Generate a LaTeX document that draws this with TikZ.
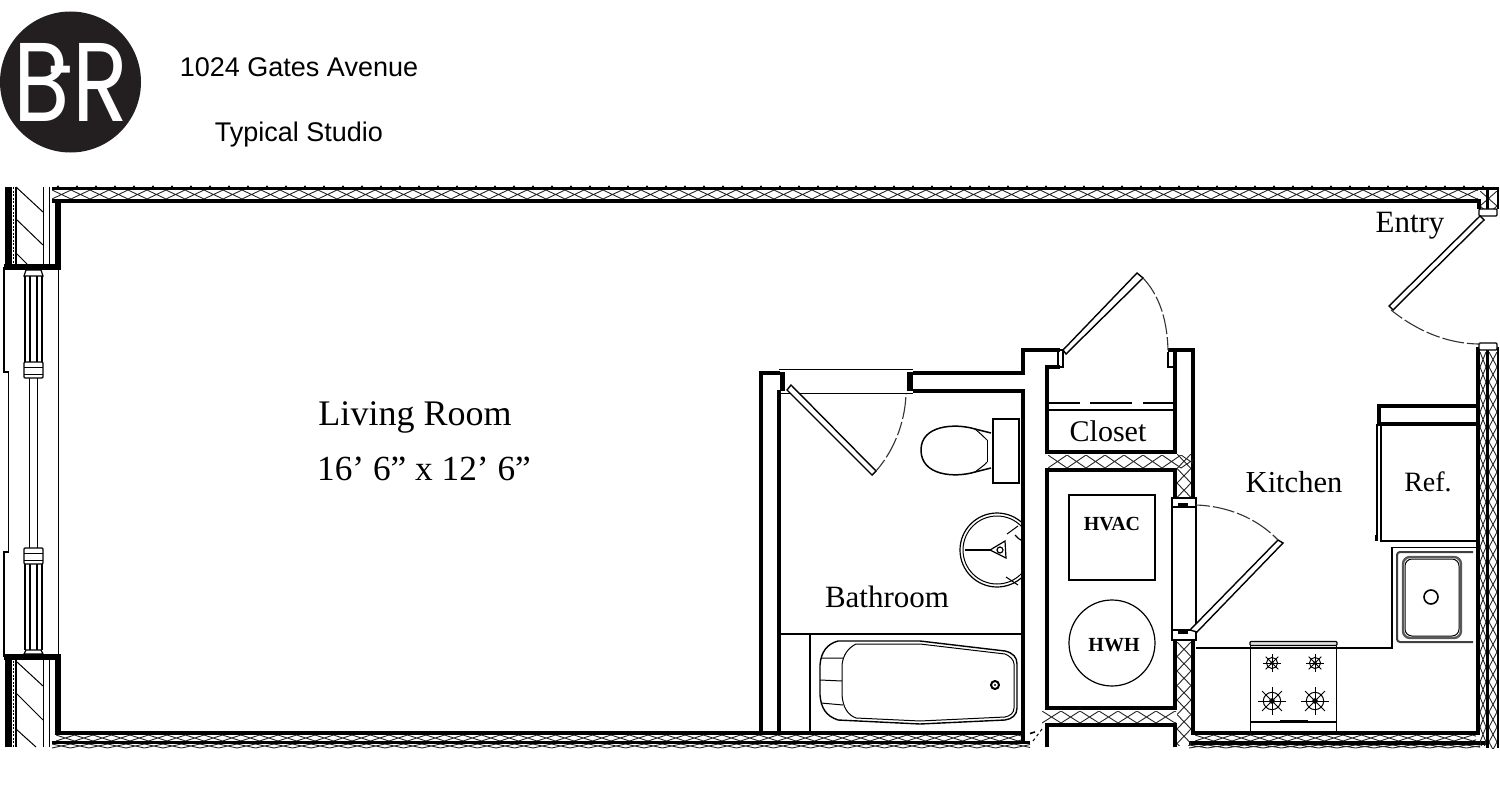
\documentclass[tikz,border=0pt]{standalone}
\usepackage{fontspec}
\setmainfont{Liberation Serif}
\newfontfamily\hdrfont{Liberation Sans}
\newfontfamily\logofont{Poppins}
\definecolor{logoblack}{HTML}{231F20}
\newcommand{\hatchH}[5]{%
  \begin{scope}\clip (#1,#3) rectangle (#2,#4);
  \pgfmathtruncatemacro\nn{(#2-#1)/#5}
  \foreach \i in {0,...,\nn}{
    \draw[hatchline] ({#1+\i*#5},#3)--({#1+(\i+1)*#5},#4) ({#1+(\i+1)*#5},#3)--({#1+\i*#5},#4);
  }\end{scope}}
\newcommand{\hatchV}[5]{%
  \begin{scope}\clip (#1,#3) rectangle (#2,#4);
  \pgfmathtruncatemacro\nn{(#4-#3)/#5}
  \foreach \i in {0,...,\nn}{
    \draw[hatchline] (#1,{#3+\i*#5})--(#2,{#3+(\i+1)*#5}) (#1,{#3+(\i+1)*#5})--(#2,{#3+\i*#5});
  }\end{scope}}
\newcommand{\burner}[3]{%
  \begin{scope}[shift={(#1,#2)}]
    \draw[fixt] (0,0) circle (#3*0.62);
    \fill (0,0) circle (#3*0.2);
    \foreach \a in {0,45,...,315}{\draw[fixt] (0,0)--(\a:#3);}
  \end{scope}}
\newcommand{\doorleaf}[4]{\draw[thinl,line width=1.4pt,fill=white] #1 -- #2 -- #3 -- #4 -- cycle;}
\tikzset{
  wall/.style={line width=4pt,black,line join=miter},
  thinl/.style={line width=1.2pt,black},
  fixt/.style={line width=1pt,black},
  hatchline/.style={line width=0.9pt,black!85},
  swing/.style={line width=1.1pt,black!80,dash pattern=on 14pt off 3pt on 22pt off 3pt},
  lbl/.style={inner sep=0pt,text=black},
}
\begin{document}
\begin{tikzpicture}[x=1pt,y=-1pt]
\useasboundingbox (0,0) rectangle (1500,800);
\fill[white] (0,0) rectangle (1500,800);

% ---- logo and title
\fill[logoblack] (70.5,82) circle (70.5);
\node[lbl,text=white] (logo) at (71,82) {\logofont\fontsize{112}{112}\selectfont\scalebox{.82}[1]{B\kern-26pt\raisebox{19pt}{\scalebox{.52}[.8]{-}}\kern-3pt R}};
\node[lbl] (addr) at (299,67) {\hdrfont\fontsize{27}{30}\selectfont 1024 Gates Avenue};
\node[lbl] (kind) at (299,135) {\hdrfont\fontsize{27}{30}\selectfont Typical Studio};

% ---- top wall
\hatchH{52}{1478}{190}{199}{19}
\draw[line width=2.5pt] (52,188.5)--(1478,188.5);
\foreach \i in {0,...,75}{\fill ({58+\i*19},186.5) circle (1.2);}
\draw[wall,line width=4.5pt] (52,201)--(1480,201);

% ---- left window piers
\foreach \ya/\yb in {187/267,657/747}{
  \fill (5,\ya) rectangle (12,\yb);
  \draw[fixt,dash pattern=on 2pt off 1.5pt,line width=1.4pt] (13.5,\ya)--(13.5,\yb);
  \draw[thinl] (16,\ya)--(16,\yb) (43.5,\ya)--(43.5,\yb) (49.5,\ya)--(49.5,\yb);
}
\fill (55,201) rectangle (61,267);
\fill (55,657) rectangle (61,735);
\fill (4,263.5) rectangle (61,269.5);
\fill (4,654) rectangle (61,660);
\draw[fixt] (16,187)--(43,212) (16,219)--(43,245) (16,253)--(28,265);
\draw[fixt] (17,662)--(43,686) (16,693)--(43,720) (16,729)--(36,747);

% ---- window
\draw[thinl] (58.5,267)--(58.5,657);
\draw[thinl] (4,267)--(4,372)--(8.5,372)--(8.5,552)--(4,552)--(4,657);
\foreach \ya/\yb in {276/362,564/650}{
  \draw[thinl] (25,\ya)--(25,\yb) (30,\ya)--(30,\yb) (37,\ya)--(37,\yb) (42,\ya)--(42,\yb);
}
\draw[thinl] (29.5,378)--(29.5,548) (37.5,378)--(37.5,548);
\foreach \ya/\yb in {362/378,548/564}{
  \draw[thinl,fill=white,rounded corners=1pt] (24,\ya) rectangle (43,\yb);
  \draw[fixt] (24,{\ya+5})--(43,{\ya+5}) (24,{\yb-4})--(43,{\yb-4});
}
\draw[thinl] (24,276)--(26,270)--(41,270)--(43,276)--cycle;
\draw[thinl] (24,654)--(26,650)--(41,650)--(43,654)--cycle;

% ---- bottom walls
\hatchH{56}{1024}{735}{741}{18.5}
\hatchH{52}{1030}{744}{748}{18.5}
\draw[wall,line width=3.5pt] (58,733)--(1024,733);
\draw[wall,line width=3.5pt] (52,742.5)--(1030,742.5);
\draw[line width=1.6pt] (1030,733.5)--(1035,732);
\draw[fixt,dashed] (1042,729)--(1033,741);
\hatchH{1195}{1476}{735}{741}{18.5}
\hatchH{1189}{1480}{745}{748}{18.5}
\draw[wall,line width=3.5pt] (1193,733)--(1479,733);
\draw[wall,line width=3.5pt] (1189,743)--(1486,743);

% ---- bathroom
\draw[wall] (761,733)--(761,373)--(780,373);
\draw[wall] (778.5,390)--(778.5,733);
\draw[fixt] (779,369)--(913,369) (779,393)--(913,393);
\fill (780,372) rectangle (785,391);
\fill (907,372) rectangle (913,391);
\draw[wall] (913,373)--(1023,373)--(1023,350)--(1060,350);
\draw[wall] (913,390.5)--(1023,390.5)--(1023,742);
\doorleaf{(787,390)}{(791,385)}{(876,471)}{(872,475)}
\draw[swing] (876,471) .. controls (892,453) and (905,425) .. (906,394);

% ---- toilet
\draw[thinl] (993,419) rectangle (1019,483);
\draw[line width=1.5pt] (991,433) -- (975,429) .. controls (955,423) and (921,425) .. (921,450) .. controls (921,476) and (955,478) .. (975,472) -- (991,468);
\draw[fixt] (987,440)--(987,462);
\draw[fixt] (975,429) .. controls (980,433) and (985,438) .. (987,440);
\draw[fixt] (975,472) .. controls (980,468) and (985,465) .. (987,462);

% ---- basin
\begin{scope}
\clip (950,505) rectangle (1021,595);
\draw[thinl] (997,550) circle (37);
\draw[fixt] (997,550) circle (34);
\draw[thinl] (1015,535) arc[start angle=-40,end angle=-320,radius=-26];
\draw[thinl] (990,550)--(965,550);
\draw[fixt] (1006,577)--(1018,585) (1007,534)--(1018,526);
\end{scope}
\draw[thinl,fill=white] (990,550)--(1005,541)--(1006,558)--cycle;
\draw[thinl] (1000,550) circle (3);

% ---- bath
\draw[thinl] (778,634)--(1023,634);
\draw[thinl] (810,634)--(810,733);
\draw[line width=1.4pt] (838,641) -- (920,641) -- (1005,651) .. controls (1013,653) and (1017,657) .. (1017,664) -- (1017,708) .. controls (1017,715) and (1012,719) .. (1005,720) -- (920,724) -- (838,720) .. controls (826,716) and (821,708) .. (820,695) -- (820,665) .. controls (821,652) and (827,644) .. (838,641) -- cycle;
\draw[fixt] (856,644) -- (920,644) -- (1005,654) .. controls (1010,656) and (1014,660) .. (1014,664) -- (1014,708) .. controls (1014,713) and (1010,716) .. (1005,717) -- (920,721) -- (856,718) .. controls (848,715) and (843,708) .. (842,695) -- (842,665) .. controls (843,655) and (848,648) .. (856,644);
\draw[fixt] (821,658)--(843,658) (820,680)--(842,681) (821,703)--(843,705);
\draw[line width=2pt] (995,685) circle (4);
\fill (995,685) circle (1.2);

% ---- closet
\draw[wall] (1060,367)--(1047,367)--(1047,454);
\draw[thinl] (1058,350) rectangle (1063,367);
\draw[wall] (1045,452)--(1177,452);
\draw[wall] (1175,350)--(1175,452);
\draw[wall] (1168,350)--(1193,350)--(1193,500);
\draw[fixt,line width=1.2pt] (1168,352)--(1168,367)--(1175,367);
\draw[thinl] (1049,403)--(1080,403) (1090,403)--(1132,403) (1143,403)--(1174,403);
\draw[thinl] (1049,410)--(1174,410);
\doorleaf{(1063,350)}{(1137,273)}{(1143,278)}{(1066,354)}
\draw[swing,dash pattern=on 20pt off 3pt on 16pt off 3pt] (1143,278) .. controls (1157,293) and (1167,315) .. (1168,350);

% ---- hatch closet / plant room
\hatchH{1048}{1193}{455}{468}{19}
\hatchV{1177}{1191}{454}{497}{14.5}
\draw[wall] (1047,470)--(1175,470)--(1175,500);
\draw[wall] (1047,468)--(1047,710);
\draw[wall] (1045,708)--(1177,708);
\draw[wall] (1175,638)--(1175,710);
\draw[wall] (1193,638)--(1193,735);
\hatchV{1177}{1191}{642}{745}{14.5}
\hatchH{1042}{1176}{711}{723}{19}
\draw[wall] (1047,747)--(1047,725)--(1175,725)--(1175,747);

% ---- kitchen door opening
\draw[thinl,fill=white] (1172,498) rectangle (1196,640);
\draw[thinl,fill=white] (1172,498) rectangle (1196,507);
\fill (1178,503) rectangle (1188,507);
\draw[thinl,fill=white] (1172,630) rectangle (1196,640);
\fill (1178,630) rectangle (1188,634);
\doorleaf{(1190,630)}{(1278,540)}{(1283,543)}{(1197,632)}
\draw[swing] (1196,505) .. controls (1227,506) and (1257,518) .. (1278,540);

% ---- plant
\node[lbl,draw,thinl,minimum width=86pt,minimum height=85pt] (hvacbox) at (1112,537.5) {};
\node[lbl,draw,circle,thinl,minimum size=86pt] (hwhbox) at (1112,643) {};
\node[lbl] (hvac) at (1112,524) {\fontsize{20}{24}\selectfont\bfseries HVAC};
\node[lbl] (hwh) at (1114,645) {\fontsize{20}{24}\selectfont\bfseries HWH};

% ---- right wall
\hatchV{1480}{1486}{352}{745}{15}
\hatchV{1489}{1497}{352}{748}{15}
\hatchV{1480}{1497}{191}{208}{15}
\draw[wall] (1478,347)--(1478,735);
\draw[wall,line width=3pt] (1487.5,347)--(1487.5,748);
\draw[wall,line width=2.5pt] (1498,347)--(1498,748);
\fill (1477,199) rectangle (1481,209);
\draw[wall,line width=3pt] (1487.5,187)--(1487.5,209);
\draw[wall,line width=2.5pt] (1498,187)--(1498,209);
\draw[line width=2.5pt] (1478,188.5)--(1499,188.5);
\draw[thinl,fill=white,rounded corners=1pt] (1479,209) rectangle (1497,216);
\draw[thinl,fill=white,rounded corners=1pt] (1479,343) rectangle (1497,350);
\doorleaf{(1480,216)}{(1389,306)}{(1393,310)}{(1484,220)}
\draw[swing] (1391,310) .. controls (1417,331) and (1448,344) .. (1480,344);

% ---- refrigerator
\draw[wall] (1478,406)--(1378.5,406)--(1378.5,424)--(1478,424);
\draw[thinl] (1377,424)--(1377,541) (1381,424)--(1381,541)--(1476,541);
\draw[fixt] (1377,535)--(1375,535)--(1375,540)--(1377,540);

% ---- counter
\draw[thinl] (1476,547.5)--(1392,547.5)--(1392,648)--(1196,648);

% ---- sink
\draw[line width=2pt,black!75,rounded corners=3pt] (1473,552)--(1397,552)--(1397,642)--(1473,642);
\draw[line width=2.4pt,black!65,rounded corners=7pt] (1403,557) rectangle (1461,638);
\draw[fixt,rounded corners=7pt] (1405,559) rectangle (1459,636);
\draw[line width=1.6pt] (1431,597) circle (7);

% ---- stove
\draw[thinl,fill=black!12,rounded corners=1pt] (1250,641.5) rectangle (1337,645.5);
\draw[thinl] (1250.5,645.5)--(1250.5,732) (1336.5,645.5)--(1336.5,732);
\draw[thinl] (1250.5,722)--(1336.5,722);
\draw[line width=1.6pt] (1280,720.5)--(1308,720.5);
\burner{1272}{663}{9}
\burner{1315}{663}{9}
\burner{1272}{701}{14}
\burner{1315}{701}{14}

% ---- labels
\node[lbl] (living) at (415,417) {\fontsize{36}{40}\selectfont Living Room};
\node[lbl] (dims) at (424,469) {\fontsize{35.3}{40}\selectfont 16’ 6” x 12’ 6”};
\node[lbl] (bath) at (887,597) {\fontsize{31}{34}\selectfont Bathroom};
\node[lbl] (closet) at (1108,431) {\fontsize{30}{34}\selectfont Closet};
\node[lbl] (kitchen) at (1294,482) {\fontsize{30.5}{34}\selectfont Kitchen};
\node[lbl] (ref) at (1428,482) {\fontsize{28}{32}\selectfont Ref.};
\node[lbl] (entry) at (1410,226) {\fontsize{31}{34}\selectfont Entry};
\end{tikzpicture}
\end{document}
